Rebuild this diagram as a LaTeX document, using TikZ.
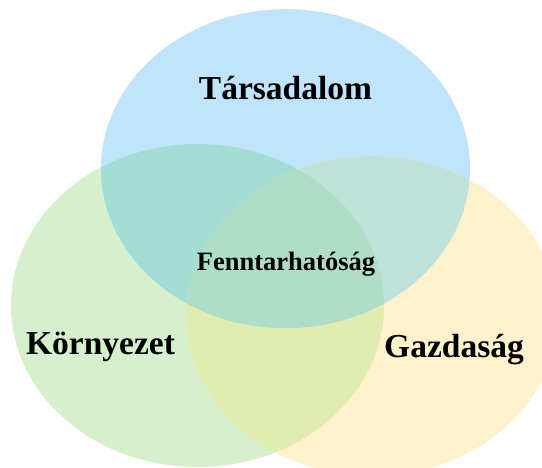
\documentclass[tikz,border=0pt]{standalone}
\usepackage{fontspec}
\setmainfont{Liberation Serif}
\usepackage{xcolor}

\definecolor{tarsBlue}{RGB}{192,228,250}
\definecolor{kornGreen}{RGB}{214,240,205}
\definecolor{gazdYellow}{RGB}{255,242,204}
\definecolor{blueGreen}{RGB}{162,222,214}
\definecolor{blueYellow}{RGB}{193,226,218}
\definecolor{greenYellow}{RGB}{225,236,176}
\definecolor{allThree}{RGB}{174,221,200}

\tikzset{
  biglabel/.style={anchor=center,inner sep=0.75pt,font=\fontsize{33.5}{40}\selectfont\bfseries},
  midlabel/.style={anchor=center,inner sep=0.75pt,font=\fontsize{26.5}{32}\selectfont\bfseries}
}

\begin{document}
\begin{tikzpicture}[x=1pt,y=1pt,yscale=-1,xscale=1]
\useasboundingbox (0,0) rectangle (542,468);
\clip (0,0) rectangle (542,468);

%Shape: Ellipse [Tarsadalom]
\fill [tarsBlue] (285.5,168.7) ellipse [x radius=184.5, y radius=159.5];
%Shape: Ellipse [Kornyezet]
\fill [kornGreen] (197.5,305.5) ellipse [x radius=186.5, y radius=161.5];
%Shape: Ellipse [Gazdasag]
\fill [gazdYellow] (372,316) ellipse [x radius=186, y radius=160];

%Overlap: blue and green
\begin{scope}
\clip (285.5,168.7) ellipse [x radius=184.5, y radius=159.5];
\fill [blueGreen] (197.5,305.5) ellipse [x radius=186.5, y radius=161.5];
\end{scope}
%Overlap: blue and yellow
\begin{scope}
\clip (285.5,168.7) ellipse [x radius=184.5, y radius=159.5];
\fill [blueYellow] (372,316) ellipse [x radius=186, y radius=160];
\end{scope}
%Overlap: green and yellow
\begin{scope}
\clip (197.5,305.5) ellipse [x radius=186.5, y radius=161.5];
\fill [greenYellow] (372,316) ellipse [x radius=186, y radius=160];
\end{scope}
%Overlap: all three
\begin{scope}
\clip (285.5,168.7) ellipse [x radius=184.5, y radius=159.5];
\clip (197.5,305.5) ellipse [x radius=186.5, y radius=161.5];
\fill [allThree] (372,316) ellipse [x radius=186, y radius=160];
\end{scope}

% Text Node
\node [biglabel] (tars) at (285.5,88) {Társadalom};
% Text Node
\node [biglabel] (korn) at (100.5,347) {Környezet};
% Text Node
\node [biglabel] (gazd) at (454,350) {Gazdaság};
% Text Node
\node [midlabel] (fenn) at (286,264) {Fenntarhatóság};

\end{tikzpicture}
\end{document}
